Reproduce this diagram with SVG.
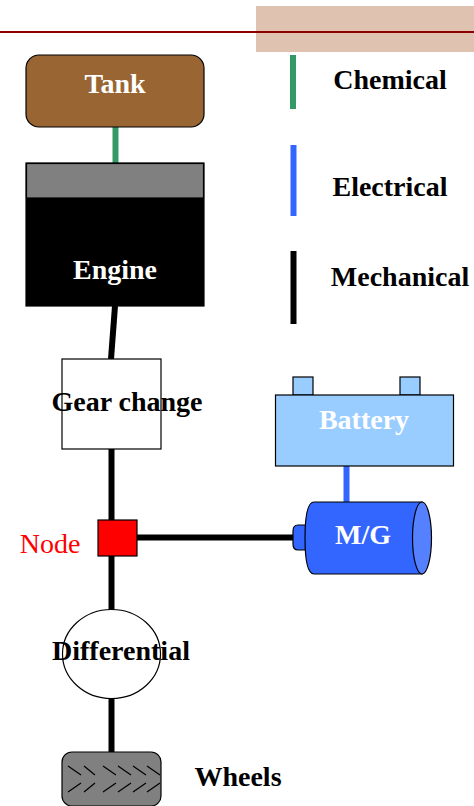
<svg xmlns="http://www.w3.org/2000/svg" width="474" height="806" viewBox="0 0 474 806">
<style>
text{font-family:"Liberation Serif","Times New Roman",serif;font-weight:bold;font-size:28px;text-anchor:middle}
.w{fill:#fff}
.o{stroke:#000;stroke-width:1.2}
.m{stroke:#000}
.t{stroke:#000;stroke-width:1.2;fill:none}
</style>
<rect x="256" y="6" width="218" height="46" fill="#dfc2b0"/>
<line x1="0" y1="32" x2="474" y2="32" stroke="#8b0000" stroke-width="2"/>
<g id="connectors" fill="none">
<line x1="115.500" y1="127" x2="115.500" y2="163" stroke="#339966" stroke-width="6"/>
<line x1="293" y1="55" x2="293" y2="109" stroke="#339966" stroke-width="6"/>
<line x1="293.500" y1="145" x2="293.500" y2="216" stroke="#3366ff" stroke-width="6"/>
<line x1="293.500" y1="251" x2="293.500" y2="324" stroke="#000" stroke-width="6"/>
<line x1="115" y1="306" x2="111" y2="359" class="m" stroke-width="6"/>
<line x1="111.500" y1="449" x2="111.500" y2="520" class="m" stroke-width="6"/>
<line x1="111.500" y1="556" x2="111.500" y2="610" class="m" stroke-width="6"/>
<line x1="111.500" y1="698" x2="111.500" y2="752" class="m" stroke-width="6"/>
<line x1="137" y1="537.500" x2="294" y2="537.500" class="m" stroke-width="6"/>
<line x1="346.500" y1="466" x2="346.500" y2="502" stroke="#3366ff" stroke-width="6"/>
</g>
<g id="tank"><rect x="26" y="55" width="178" height="72" rx="13" fill="#996633" class="o"/><text x="115" y="93" class="w">Tank</text></g>
<g id="engine"><rect x="26" y="163" width="178" height="143" fill="#000" class="o"/><rect x="26.500" y="163.500" width="177" height="34.500" fill="#808080" class="o"/><text x="115" y="279" class="w">Engine</text></g>
<g id="gear-change"><rect x="62" y="359" width="99" height="90" fill="#fff" class="o"/><text x="127" y="411">Gear change</text></g>
<g id="node"><rect x="98" y="520" width="39" height="36" fill="#ff0000" class="o"/><text x="50" y="553" fill="#ff0000" style="font-weight:normal">Node</text></g>
<g id="differential"><ellipse cx="111.500" cy="654" rx="49" ry="44.500" fill="#fff" class="o"/><text x="121" y="660">Differential</text></g>
<g id="wheels"><rect x="62" y="752" width="99" height="54" rx="10" fill="#808080" class="o"/>
<path class="t" d="M68 766L81 775M84 766L95 775M103 766L116 775M118 766L131 775M133 766L146 775M147 766L160 775M68 792L81 783M84 792L95 783M103 792L116 783M118 792L131 783M133 792L146 783M147 792L160 783"/>
<text x="238" y="786">Wheels</text></g>
<g id="battery"><rect x="293" y="377" width="20" height="18" fill="#99ccff" class="o"/><rect x="400" y="377" width="20" height="18" fill="#99ccff" class="o"/><rect x="275.500" y="395" width="178" height="71" fill="#99ccff" class="o"/><text x="364" y="429" class="w">Battery</text></g>
<g id="motor-generator"><path d="M306 525H298Q293 525 293 531V544Q293 550 298 550H306z" fill="#3366ff" class="o"/><path d="M314 502H422V574H314Q305 574 305 538Q305 502 314 502z" fill="#3366ff" class="o"/><ellipse cx="422" cy="538" rx="9.500" ry="36" fill="#5580ff" class="o"/><text x="363" y="544" class="w">M/G</text></g>
<g id="legend"><text x="390" y="89">Chemical</text><text x="390" y="196">Electrical</text><text x="400" y="286">Mechanical</text></g>
</svg>
